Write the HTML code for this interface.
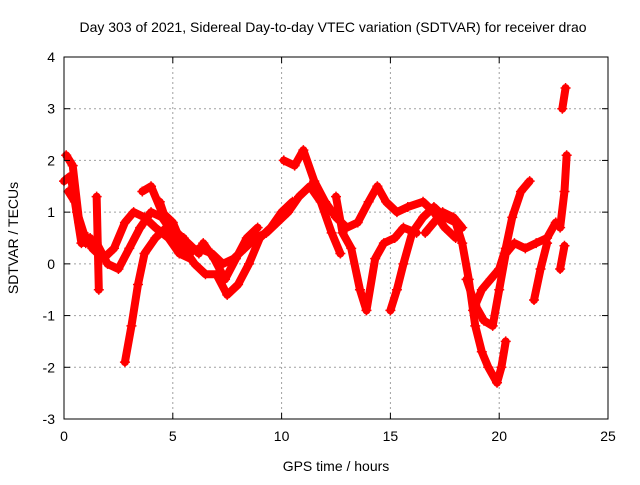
<!DOCTYPE html>
<html><head><meta charset="utf-8"><style>
body{margin:0;background:#fff}
svg text{font-family:"Liberation Sans",sans-serif;font-size:14px;fill:#000}
</style></head><body>
<svg width="640" height="480">
<rect width="640" height="480" fill="#fff"/>
<g id="grid"></g><g id="marks"></g><g id="axes"></g>
<text x="333" y="32" text-anchor="middle">Day 303 of 2021, Sidereal Day-to-day VTEC variation (SDTVAR) for receiver drao</text>
<text x="336" y="471" text-anchor="middle">GPS time / hours</text>
<text transform="translate(18,238) rotate(-90)" text-anchor="middle">SDTVAR / TECUs</text>
</svg>
<script>
const xTicks=[0,5,10,15,20,25];
const yTicks=[-3,-2,-1,0,1,2,3,4];
const trackA=[[0,1.6],[0.3,1.7],[0.6,1.0],[0.9,0.6],[1.3,0.3],[1.8,0.1],[2.3,0.3],[2.8,0.8],[3.2,1.0],[3.7,0.9],[4.2,0.7],[4.8,0.5],[5.3,0.2],[5.8,0.1]];
const trackB=[[0.1,2.1],[0.4,1.9],[0.7,0.8],[1.0,0.4],[1.5,0.4],[2.0,0.0],[2.5,-0.1],[3.0,0.3],[3.5,0.7],[4.0,1.0],[4.5,0.9],[5.0,0.6],[5.5,0.5]];
const trackC=[[2.8,-1.9],[3.1,-1.2],[3.4,-0.4],[3.7,0.2],[4.2,0.5],[4.7,0.7],[5.2,0.6],[5.7,0.4],[6.2,0.2]];
const trackD=[[3.6,1.4],[4.0,1.5],[4.5,1.0],[5.0,0.8],[5.5,0.3],[6.0,0.0],[6.5,-0.2],[7.0,-0.2],[7.5,-0.6],[8.0,-0.4],[8.5,0.0],[9.0,0.5],[9.5,0.7],[10.0,1.0],[10.5,1.2]];
const trackE=[[6.2,0.3],[6.8,0.2],[7.3,0.0],[7.8,0.1],[8.3,0.3],[8.8,0.5],[9.3,0.6],[9.8,0.8],[10.3,1.0],[10.8,1.3],[11.3,1.5],[11.8,1.2],[12.3,0.6],[12.7,0.2]];
const trackF=[[10.1,2.0],[10.6,1.9],[11.0,2.2],[11.5,1.6],[12.0,1.2],[12.5,0.9],[13.0,0.7],[13.5,0.8],[14.0,1.2],[14.4,1.5],[14.8,1.2],[15.3,1.0],[15.8,1.1],[16.5,1.2],[17.0,1.0],[17.5,0.7],[18.0,0.5]];
const trackG=[[12.5,1.3],[12.8,0.6],[13.2,0.3],[13.6,-0.5],[13.9,-0.9],[14.3,0.1],[14.7,0.4],[15.2,0.5],[15.6,0.7],[16.2,0.6]];
const trackH=[[15.0,-0.9],[15.3,-0.5],[15.6,0.0],[16.0,0.6],[16.5,0.9],[17.0,1.1],[17.5,0.9],[18.0,0.8],[18.3,0.4],[18.6,-0.3],[18.9,-1.2],[19.2,-1.7],[19.5,-2.0],[19.9,-2.3],[20.1,-2.0],[20.3,-1.5]];
const trackI=[[18.8,-0.9],[19.2,-0.5],[19.6,-0.3],[20.0,-0.1],[20.3,0.3],[20.6,0.9],[21.0,1.4],[21.4,1.6]];
const trackJ=[[18.5,-0.3],[18.9,-0.8],[19.3,-1.1],[19.7,-1.2],[20.0,-0.5],[20.3,0.2],[20.7,0.4],[21.2,0.3],[21.7,0.4],[22.2,0.5],[22.6,0.8]];
const trackK=[[21.6,-0.7],[21.9,-0.1],[22.2,0.4]];
const trackL=[[22.8,0.7],[23.0,1.4],[23.1,2.1]];
const trackM=[[22.9,3.0],[23.05,3.4]];
const trackN=[[22.8,-0.1],[23.0,0.35]];
const trackO=[[1.5,1.3],[1.6,-0.5]];
const trackP=[[6.4,0.4],[6.9,0.1],[7.4,-0.3],[7.9,0.1],[8.4,0.5],[8.9,0.7]];
const trackQ=[[4.4,1.2],[4.8,0.7],[5.3,0.3],[5.8,0.2]];
const trackR=[[16.6,0.6],[17.0,0.8],[17.4,1.0],[17.9,0.9],[18.3,0.7]];
const trackS=[[0.2,1.4],[0.5,1.2],[0.8,0.4],[1.2,0.5]];
const tracks=[trackA,trackB,trackC,trackD,trackE,trackF,trackG,trackH,trackI,trackJ,trackK,trackL,trackM,trackN,trackO,trackP,trackQ,trackR,trackS];
const X0=64,X1=608,Y0=419,Y1=57;
const sx=v=>X0+(v-0)/(25-0)*(X1-X0);
const sy=v=>Y0-(v+3)/7*(Y0-Y1);
const NS="http://www.w3.org/2000/svg";
const mk=(t,a)=>{const e=document.createElementNS(NS,t);for(const k in a)e.setAttribute(k,a[k]);return e;};
const grid=document.getElementById('grid'),axes=document.getElementById('axes'),marks=document.getElementById('marks');
xTicks.forEach(t=>{const x=sx(t);
 if(t>0&&t<25){const g=mk('line',{x1:x,x2:x,y1:Y1,y2:Y0,stroke:'#a0a0a0','stroke-dasharray':'2,3'});grid.appendChild(g);}
 axes.appendChild(mk('line',{x1:x,x2:x,y1:Y0,y2:Y0-6,stroke:'#000'}));
 axes.appendChild(mk('line',{x1:x,x2:x,y1:Y1,y2:Y1+6,stroke:'#000'}));
 const tx=mk('text',{x:x,y:Y0+22,'text-anchor':'middle'});tx.textContent=t;
 axes.appendChild(tx);});
yTicks.forEach(t=>{const y=sy(t);
 if(t>-3&&t<4){const g=mk('line',{x1:X0,x2:X1,y1:y,y2:y,stroke:'#a0a0a0','stroke-dasharray':'2,3'});grid.appendChild(g);}
 axes.appendChild(mk('line',{x1:X0,x2:X0+6,y1:y,y2:y,stroke:'#000'}));
 axes.appendChild(mk('line',{x1:X1,x2:X1-6,y1:y,y2:y,stroke:'#000'}));
 const tx=mk('text',{x:X0-9,y:y+5,'text-anchor':'end'});tx.textContent=t;
 axes.appendChild(tx);});
const fr=mk('rect',{x:X0,y:Y1,width:X1-X0,height:Y0-Y1,fill:'none',stroke:'#000'});
axes.appendChild(fr);
tracks.forEach(tr=>{
 const p=mk('polyline',{points:tr.map(d=>sx(d[0])+','+sy(d[1])).join(' '),fill:'none',stroke:'#f00','stroke-width':8,'stroke-linejoin':'round','stroke-linecap':'round'});
 
 
 marks.appendChild(p);
 tr.forEach(d=>{const x=sx(d[0]),y=sy(d[1]);
  const m=mk('path',{d:`M${x-5},${y}H${x+5}M${x},${y-5}V${y+5}`,stroke:'#f00','stroke-width':1.5});
  
  
  marks.appendChild(m);});
});
</script>
</body></html>
